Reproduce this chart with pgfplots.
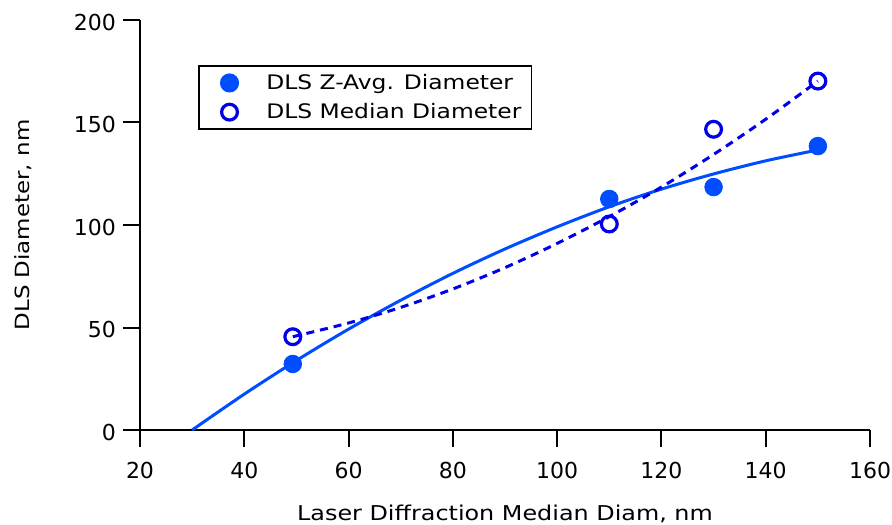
\documentclass[border=0pt]{standalone}
\usepackage{fontspec}
\setmainfont{DejaVu Sans}
\newfontfamily\lblfont{DejaVu Sans}[FakeStretch=1.17]
\usepackage{pgfplots}
\pgfplotsset{compat=1.18}
\definecolor{zavg}{RGB}{0,76,255}
\definecolor{median}{RGB}{0,0,235}

\begin{document}
\begin{tikzpicture}
\useasboundingbox (-70pt,-47pt) rectangle (376pt,215pt);
\begin{axis}[
    at={(0,0)}, anchor=south west,
    width=365pt, height=205pt, scale only axis,
    xmin=20, xmax=160, ymin=0, ymax=200,
    xtick={20,40,...,160},
    ytick={0,50,...,200},
    axis lines*=left,
    axis line style={line width=1pt, -},
    tick style={line width=1pt, black},
    tick align=outside,
    major tick length=8.5pt,
    /pgf/number format/assume math mode=true,
    xticklabel style={yshift=-4pt, font=\fontsize{11}{13}\selectfont},
    yticklabel style={yshift=-1pt, font=\fontsize{11}{13}\selectfont},
    xlabel={Laser Diffraction Median Diam, nm},
    ylabel={DLS Diameter, nm},
    xlabel style={at={(axis description cs:0.5,0)}, anchor=base, yshift=-45pt,
        font=\lblfont\fontsize{10.2}{12.5}\selectfont},
    ylabel style={at={(axis description cs:-0.1507,0.5)}, anchor=base,
        font=\lblfont\fontsize{9.8}{12}\selectfont},
    legend cell align=left,
    legend style={at={(axis description cs:0.0795,0.890)}, anchor=north west,
        draw=black, line width=0.75pt, row sep=1.5pt,
        font=\lblfont\fontsize{10}{12}\selectfont},
    legend image code/.code={\path (0pt,0pt) (28pt,0pt); \draw[#1] plot coordinates {(12pt,0pt)};},
]

% quadratic fit of the Z-average diameters
\addplot[zavg, line width=1.5pt, smooth, forget plot] coordinates {
    (30,0.0) (40,17.5) (50,33.9) (60,49.2) (70,63.3) (80,76.4) (90,88.3)
    (100,99.1) (110,108.9) (120,117.5) (130,124.9) (140,131.3) (150,136.6)
};

% fit of the median diameters
\addplot[median, line width=1.5pt, dash pattern=on 4pt off 3pt, smooth, forget plot] coordinates {
    (49.3,45.5) (60,52.2) (70,59.8) (80,68.8) (90,79.2) (100,91.0)
    (110,104.1) (120,118.5) (130,134.4) (140,151.6) (150,170.2)
};

\addplot[only marks, mark=*, mark size=4.4pt, color=zavg, mark options={fill=zavg, draw=zavg}]
coordinates {(49.3,32.2) (110,112.7) (130,118.5) (150,138.5)};
\addlegendentry{DLS Z-Avg. Diameter}

\addplot[only marks, mark=o, mark size=3.95pt, color=median, mark options={line width=1.6pt}]
coordinates {(49.3,45.5) (110,100.5) (130,146.7) (150,170.2)};
\addlegendentry{DLS Median Diameter}

\end{axis}
\end{tikzpicture}
\end{document}
